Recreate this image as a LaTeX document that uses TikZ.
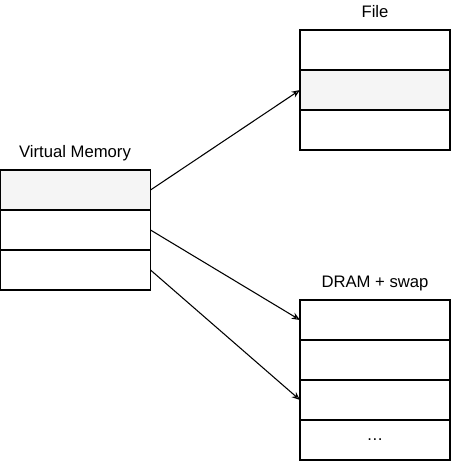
\documentclass[tikz,border=0pt]{standalone}
\usepackage{fontspec}
\setmainfont{Liberation Sans}
\usetikzlibrary{arrows.meta,positioning}
\definecolor{colcell}{HTML}{F5F5F5}

\begin{document}
\begin{tikzpicture}[
  x=0.75pt, y=-0.75pt,
  font=\fontsize{12.5}{14}\selectfont,
  cell/.style={draw,line width=0.8pt,fill=white,minimum width=112.5pt,minimum height=30pt,inner sep=0pt,outer sep=0pt},
  hot/.style={cell,fill=colcell},
  link/.style={-{Stealth[open,length=2.2mm,width=1.8mm]},line width=0.8pt},
]
  \useasboundingbox (0,0) rectangle (451,461);
  % ---------------- virtual memory ----------------
  \node[hot]  (vm1) at (75.5,190) {};
  \node[cell,below=0pt of vm1] (vm2) {};
  \node[cell,below=0pt of vm2] (vm3) {};
  \node (vmname) at (75,153) {Virtual Memory};
  % ---------------- file ----------------
  \node[cell] (f1) at (375,50) {};
  \node[hot,below=0pt of f1]  (f2) {};
  \node[cell,below=0pt of f2] (f3) {};
  \node (fname) at (375,12) {File};
  % ---------------- dram + swap ----------------
  \node[cell] (d1) at (375,320) {};
  \node[cell,below=0pt of d1] (d2) {};
  \node[cell,below=0pt of d2] (d3) {};
  \node[cell,below=0pt of d3] (d4) {\ldots};
  \node (dname) at (375,283) {DRAM + swap};
  % ---------------- links ----------------
  \draw[link] (vm1.east) -- (f2.west);
  \draw[link] (vm2.east) -- (d1.west);
  \draw[link] (vm3.east) -- (d3.west);
\end{tikzpicture}
\end{document}
